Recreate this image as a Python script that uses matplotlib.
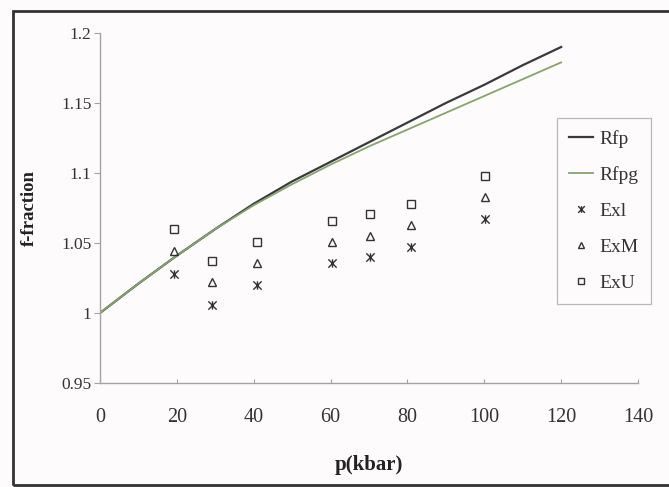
import matplotlib
matplotlib.use("Agg")
import matplotlib.pyplot as plt
from matplotlib.path import Path
from matplotlib.patches import Rectangle

plt.rcParams['font.family'] = ['Liberation Serif', 'DejaVu Serif']

# Data
p_line = [0, 10, 20, 30, 40, 50, 60, 70, 80, 90, 100, 110, 120]
rfp = [1.000, 1.021, 1.041, 1.060, 1.078, 1.094, 1.108, 1.122, 1.136, 1.150, 1.163, 1.177, 1.190]
rfpg = [1.000, 1.021, 1.041, 1.060, 1.077, 1.092, 1.106, 1.119, 1.131, 1.143, 1.155, 1.167, 1.179]

p_exp = [19.3, 29.2, 40.8, 60.4, 70.3, 80.8, 100.2]
exl = [1.028, 1.006, 1.020, 1.036, 1.040, 1.047, 1.067]
exm = [1.044, 1.022, 1.036, 1.051, 1.055, 1.063, 1.083]
exu = [1.060, 1.037, 1.051, 1.066, 1.071, 1.078, 1.098]

xticks = [0, 20, 40, 60, 80, 100, 120, 140]
yticks = [0.95, 1.0, 1.05, 1.1, 1.15, 1.2]
ytick_labels = ['0.95', '1', '1.05', '1.1', '1.15', '1.2']

W, H = 669, 487
fig = plt.figure(figsize=(W / 100, H / 100), dpi=100)
fig.patch.set_facecolor('#fdfbfc')

ax = fig.add_axes([100 / W, 1 - 383 / H, 538 / W, 350 / H])
ax.set_facecolor('#fdfbfc')

star = Path([(-1, -1), (1, 1), (-1, 1), (1, -1), (0, -1), (0, 1)],
            [Path.MOVETO, Path.LINETO, Path.MOVETO, Path.LINETO, Path.MOVETO, Path.LINETO])

ax.plot(p_line, rfp, color='#3a3a3a', lw=1.6, label='Rfp')
ax.plot(p_line, rfpg, color='#86a46c', lw=1.3, label='Rfpg')
ax.plot(p_exp, exl, ls='none', marker=star, ms=6, mew=1.0, color='#333333', label='Exl')
ax.plot(p_exp, exm, ls='none', marker='^', ms=6, mfc='none', mew=1.0, color='#333333', label='ExM')
ax.plot(p_exp, exu, ls='none', marker='s', ms=6, mfc='none', mew=1.0, color='#333333', label='ExU')

ax.set_xlim(0, 140)
ax.set_ylim(0.95, 1.2)
ax.set_xticks(xticks)
ax.set_yticks(yticks)
ax.set_yticklabels(ytick_labels)

for s in ['top', 'right']:
    ax.spines[s].set_visible(False)
for s in ['left', 'bottom']:
    ax.spines[s].set_color('#a8a0a8')
    ax.spines[s].set_linewidth(1.0)

ax.tick_params(axis='x', direction='in', length=3, color='#a8a0a8', pad=18,
               labelsize=14.5, labelcolor='#333333')
ax.tick_params(axis='y', direction='out', length=4, color='#a8a0a8', pad=2,
               labelsize=12.5, labelcolor='#333333')

ax.set_xlabel('p(kbar)', fontsize=15, fontweight='bold', color='#222222')
ax.xaxis.set_label_coords(0.5, -0.205)
ax.set_ylabel('f-fraction', fontsize=13.5, fontweight='bold', color='#222222')
ax.yaxis.set_label_coords(-0.115, 0.5)

leg = ax.legend(loc='upper left', bbox_to_anchor=(557 / W, 1 - 118 / H),
                bbox_transform=fig.transFigure, fontsize=14, frameon=True,
                fancybox=False, edgecolor='#a8a8a8', labelspacing=0.95,
                handlelength=1.25, borderpad=0.6, handletextpad=0.35, borderaxespad=0,
                markerscale=0.8)
leg.get_frame().set_linewidth(0.9)
leg.get_frame().set_facecolor('#fdfbfc')
for t in leg.get_texts():
    t.set_color('#333333')

fig.add_artist(Rectangle((13 / W, 2 / H), 1.0, 474 / H, transform=fig.transFigure,
                         fill=False, edgecolor='#333333', lw=2.0, clip_on=False))

fig.savefig('out.png', dpi=100, facecolor=fig.get_facecolor())
